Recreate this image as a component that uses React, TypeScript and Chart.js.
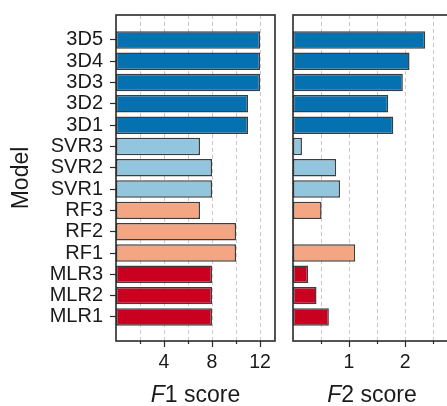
import React, { useEffect, useRef } from 'react';
import { Chart, registerables } from 'chart.js';

Chart.register(...registerables);

// ---- data (top to bottom as displayed) ----
const models = ['3D5', '3D4', '3D3', '3D2', '3D1', 'SVR3', 'SVR2', 'SVR1', 'RF3', 'RF2', 'RF1', 'MLR3', 'MLR2', 'MLR1'];
const modelGroups = ['3D', '3D', '3D', '3D', '3D', 'SVR', 'SVR', 'SVR', 'RF', 'RF', 'RF', 'MLR', 'MLR', 'MLR'];
const f1Scores = [12, 12, 12, 11, 11, 7, 8, 8, 7, 10, 10, 8, 8, 8];
const f2Scores: (number | null)[] = [2.36, 2.08, 1.96, 1.7, 1.79, 0.16, 0.77, 0.84, 0.51, null, 1.11, 0.27, 0.42, 0.64];
const groupColors: Record<string, string> = {
  '3D': '#0571b0',
  SVR: '#92c5de',
  RF: '#f4a582',
  MLR: '#ca0020',
};
const f1Ticks = [2, 4, 6, 8, 10, 12];
const f1LabeledTicks = [4, 8, 12];
const f2Ticks = [0.5, 1, 1.5, 2, 2.5];
const f2LabeledTicks = [1, 2];

const FONT = "'Liberation Sans', Arial, Helvetica, sans-serif";
const N = models.length;

type PanelProps = {
  values: (number | null)[];
  xMax: number;
  ticks: number[];
  labeled: number[];
  titleIt: string;
  titleRest: string;
  showY: boolean;
  left: number;
  width: number;
  padLeft: number;
  padRight: number;
  yWidth: number;
};

function Panel(p: PanelProps) {
  const ref = useRef<HTMLCanvasElement | null>(null);
  useEffect(() => {
    if (!ref.current) return;
    const framePlugin = {
      id: 'frameTicksTitle',
      afterDraw(chart: any) {
        const { ctx, chartArea: a } = chart;
        const xs = chart.scales.x;
        ctx.save();
        ctx.strokeStyle = '#2a2a2a';
        ctx.lineWidth = 1.2;
        p.ticks.forEach((v) => {
          const px = Math.round(xs.getPixelForValue(v)) + 0.5;
          const len = p.labeled.includes(v) ? 6 : 3;
          ctx.beginPath();
          ctx.moveTo(px, a.bottom);
          ctx.lineTo(px, a.bottom + len);
          ctx.stroke();
        });
        ctx.lineWidth = 1.6;
        ctx.strokeStyle = '#2a2a2a';
        ctx.strokeRect(a.left, a.top, a.right - a.left, a.bottom - a.top);
        // x title with italic first part
        const itFont = `italic 23px ${FONT}`;
        const rgFont = `23px ${FONT}`;
        ctx.font = itFont;
        const w1 = ctx.measureText(p.titleIt).width;
        ctx.font = rgFont;
        const w2 = ctx.measureText(p.titleRest).width;
        const cx = (a.left + a.right) / 2;
        const x0 = cx - (w1 + w2) / 2;
        const by = 402;
        ctx.fillStyle = '#1a1a1a';
        ctx.textBaseline = 'alphabetic';
        ctx.textAlign = 'left';
        ctx.font = itFont;
        ctx.fillText(p.titleIt, x0, by);
        ctx.font = rgFont;
        ctx.fillText(p.titleRest, x0 + w1, by);
        ctx.restore();
      },
    };

    const data = p.values.map((v, i) => ({ x: v, y: N - 1 - i }));
    const colors = modelGroups.map((g) => groupColors[g]);

    const chart = new Chart(ref.current, {
      type: 'bar',
      data: {
        datasets: [
          {
            data: data as any,
            backgroundColor: colors,
            borderColor: 'rgba(40,40,40,0.9)',
            borderWidth: 1.5,
            borderSkipped: false,
            barPercentage: 0.82,
            categoryPercentage: 1,
          },
        ],
      },
      options: {
        indexAxis: 'y',
        animation: false,
        responsive: false,
        devicePixelRatio: 1,
        layout: { padding: { left: p.padLeft, right: p.padRight, top: 15, bottom: 0 } },
        plugins: { legend: { display: false }, tooltip: { enabled: false } },
        scales: {
          x: {
            type: 'linear',
            min: 0,
            max: p.xMax,
            offset: false,
            afterBuildTicks: (s: any) => {
              s.ticks = p.ticks.map((v) => ({ value: v }));
            },
            afterFit: (s: any) => {
              s.height = 65;
              s.paddingLeft = 0;
              s.paddingRight = 0;
            },
            grid: {
              display: true,
              offset: false,
              drawOnChartArea: true,
              drawTicks: false,
              color: '#c9c9c9',
              lineWidth: 1,
            },
            border: { display: false, dash: [4, 3] },
            ticks: {
              autoSkip: false,
              maxRotation: 0,
              padding: 10,
              color: '#1a1a1a',
              font: { family: FONT, size: 19.5 },
              callback: (v: any) => (p.labeled.includes(Number(v)) ? String(v) : ''),
            },
          },
          y: {
            type: 'linear',
            display: p.showY,
            offset: false,
            min: -1.13,
            max: 14.17,
            afterBuildTicks: (s: any) => {
              s.ticks = models.map((_, i) => ({ value: i }));
            },
            afterFit: (s: any) => {
              s.width = p.yWidth;
              s.paddingTop = 0;
              s.paddingBottom = 0;
            },
            grid: {
              display: true,
              offset: false,
              drawOnChartArea: false,
              drawTicks: true,
              tickLength: 6,
              tickColor: '#2a2a2a',
              tickWidth: 1.2,
            },
            border: { display: false },
            ticks: {
              autoSkip: false,
              padding: 7,
              color: '#1a1a1a',
              font: { family: FONT, size: 20 },
              callback: (v: any) => models[N - 1 - Number(v)] ?? '',
            },
            title: {
              display: true,
              text: 'Model',
              color: '#1a1a1a',
              font: { family: FONT, size: 23 },
              padding: { top: 8, bottom: 0 },
            },
          },
        },
      },
      plugins: [framePlugin],
    });
    return () => chart.destroy();
  }, []);
  return (
    <canvas
      ref={ref}
      width={p.width}
      height={406}
      style={{ position: 'absolute', left: p.left, top: 0, width: p.width, height: 406 }}
    />
  );
}

export default function App() {
  return (
    <div
      style={{
        position: 'fixed',
        left: 0,
        top: 0,
        width: 447,
        height: 406,
        overflow: 'hidden',
        background: '#ffffff',
      }}
    >
      <Panel
        values={f1Scores}
        xMax={13.25}
        ticks={f1Ticks}
        labeled={f1LabeledTicks}
        titleIt="F"
        titleRest="1 score"
        showY={true}
        left={0}
        width={285}
        padLeft={0}
        padRight={10}
        yWidth={116}
      />
      <Panel
        values={f2Scores}
        xMax={2.82}
        ticks={f2Ticks}
        labeled={f2LabeledTicks}
        titleIt="F"
        titleRest="2 score"
        showY={false}
        left={285}
        width={176}
        padLeft={8}
        padRight={10}
        yWidth={0}
      />
    </div>
  );
}
